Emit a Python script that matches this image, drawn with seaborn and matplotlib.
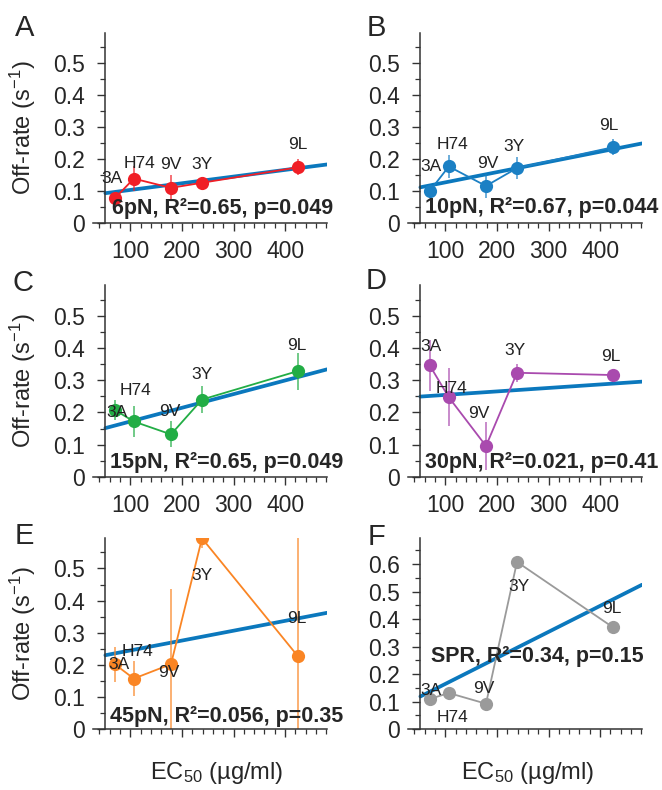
import numpy as np
import pandas as pd
import matplotlib
matplotlib.use('Agg')
import matplotlib.pyplot as plt
import seaborn as sns
from matplotlib.ticker import MultipleLocator

sns.set_style('ticks')
plt.rcParams['font.family'] = ['Liberation Sans', 'DejaVu Sans']
plt.rcParams['mathtext.default'] = 'regular'

# datos
strains = ['3A', 'H74', '9V', '3Y', '9L']
ec50 = [70, 107, 179, 239, 424]

rate_6pN = [0.077, 0.139, 0.110, 0.126, 0.174]
err_6pN = [0.015, 0.040, 0.040, 0.010, 0.025]
rate_10pN = [0.100, 0.177, 0.116, 0.172, 0.237]
err_10pN = [0.010, 0.035, 0.037, 0.035, 0.025]
rate_15pN = [0.208, 0.172, 0.132, 0.240, 0.328]
err_15pN = [0.030, 0.047, 0.040, 0.043, 0.057]
rate_30pN = [0.346, 0.247, 0.096, 0.323, 0.316]
err_30pN = [0.080, 0.090, 0.075, 0.028, 0.010]
rate_45pN = [0.202, 0.157, 0.202, 0.594, 0.228]
err_45pN = [0.055, 0.055, 0.235, 0.030, 0.400]
rate_spr = [0.109, 0.131, 0.092, 0.608, 0.371]

stats = ['6pN, R²=0.65, p=0.049', '10pN, R²=0.67, p=0.044',
         '15pN, R²=0.65, p=0.049', '30pN, R²=0.021, p=0.41',
         '45pN, R²=0.056, p=0.35', 'SPR, R²=0.34, p=0.15']
letters = ['A', 'B', 'C', 'D', 'E', 'F']

series = [rate_6pN, rate_10pN, rate_15pN, rate_30pN, rate_45pN, rate_spr]
errors = [err_6pN, err_10pN, err_15pN, err_30pN, err_45pN, None]
colors = ['#f01f26', '#1b80c4', '#22ad45', '#a94aae', '#fa8524', '#9a9a9a']
fit_color = '#0b78bd'

# posiciones (pixeles) de cada panel
W, H = 662, 790
col_x = [93, 408]
row_y = [(223, 33), (477, 285), (729, 538)]
stat_pos = [(0.081, 0.074), (0.073, 0.079), (0.073, 0.073),
            (0.073, 0.078), (0.073, 0.063), (0.098, 0.382)]
label_off = [
    [(-3, 20), (6, 15), (0, 23), (0, 18), (0, 23)],
    [(1, 25), (4, 22), (2, 22), (-3, 22), (-4, 22)],
    [(2, -3), (2, 31), (-1, 23), (0, 25), (-1, 26)],
    [(1, 19), (3, 9), (-7, 33), (-2, 22), (-2, 19)],
    [(4, 0), (4, 27), (-2, -8), (0, -37), (-1, 37)],
    [(1, 9), (4, -25), (-2, 15), (2, -25), (-1, 19)],
]
letter_pos = [(25, 28), (376, 28), (23, 283), (376, 281), (24, 536), (376, 537)]

x_lo, x_spine, x_hi = 28, 52, 481

fig = plt.figure(figsize=(W / 100, H / 100), dpi=100)

for i in range(6):
    r, c = i // 2, i % 2
    y0, y1 = row_y[r]
    ax = fig.add_axes([col_x[c] / W, 1 - y0 / H, 234 / W, (y0 - y1) / H])
    df = pd.DataFrame({'ec50': ec50, 'rate': series[i], 'strain': strains})

    # recta de regresion desde el eje y hasta el final
    ax.set_xlim(x_spine, x_hi)
    sns.regplot(data=df, x='ec50', y='rate', ax=ax, scatter=False, ci=None,
                truncate=False, color=fit_color, line_kws={'lw': 2.7, 'zorder': 1})
    ax.set_xlim(x_lo, x_hi)

    if errors[i] is not None:
        ax.errorbar(ec50, series[i], yerr=errors[i], fmt='none', ecolor=colors[i],
                    elinewidth=1.2, alpha=0.75, zorder=2)
    sns.lineplot(data=df, x='ec50', y='rate', ax=ax, color=colors[i], marker='o',
                 markersize=9.5, markeredgewidth=0, lw=1.3, sort=False, zorder=3)

    for k, s in enumerate(strains):
        ax.annotate(s, (ec50[k], series[i][k]), xytext=label_off[i][k],
                    textcoords='offset pixels', ha='center', va='center',
                    fontsize=12.5, color='#222222', zorder=4)

    ax.text(stat_pos[i][0], stat_pos[i][1], stats[i], transform=ax.transAxes,
            ha='left', va='center', fontsize=15.5, fontweight='bold', zorder=5)

    if i == 5:
        ax.set_ylim(0, 0.695)
        ax.set_yticks([0, 0.1, 0.2, 0.3, 0.4, 0.5, 0.6])
        ax.set_yticklabels(['0', '0.1', '0.2', '0.3', '0.4', '0.5', '0.6'])
    else:
        ax.set_ylim(0, 0.595)
        ax.set_yticks([0, 0.1, 0.2, 0.3, 0.4, 0.5])
        ax.set_yticklabels(['0', '0.1', '0.2', '0.3', '0.4', '0.5'])
    ax.yaxis.set_minor_locator(MultipleLocator(0.05))
    ax.xaxis.set_major_locator(MultipleLocator(100))
    ax.xaxis.set_minor_locator(MultipleLocator(20))
    ax.set_xlim(x_lo, x_hi)

    ax.spines['top'].set_visible(False)
    ax.spines['right'].set_visible(False)
    ax.spines['left'].set_position(('data', x_spine))
    for sp in ['left', 'bottom']:
        ax.spines[sp].set_color('#333333')
        ax.spines[sp].set_linewidth(1.1)
    ax.tick_params(which='major', length=6, width=1, color='#333333',
                   labelsize=16.5)
    ax.tick_params(axis='y', which='major', pad=9)
    ax.tick_params(axis='x', which='major', pad=6)
    ax.tick_params(which='minor', length=3.5, width=0.9, color='#333333')
    if r == 2:
        ax.tick_params(labelbottom=False)
    ax.set_xlabel('')
    ax.set_ylabel('')

    fig.text(letter_pos[i][0] / W, 1 - letter_pos[i][1] / H, letters[i],
             ha='center', va='center', fontsize=21)

    if c == 0:
        fig.text(23 / W, 1 - (y0 + y1) / 2 / H, 'Off-rate (s$^{-1}$)',
                 rotation=90, ha='center', va='center', fontsize=17)

fig.text(217 / W, 1 - 773 / H, 'EC$_{50}$ (µg/ml)', ha='center', va='center', fontsize=17)
fig.text(528 / W, 1 - 773 / H, 'EC$_{50}$ (µg/ml)', ha='center', va='center', fontsize=17)

plt.savefig('out.png', dpi=100)
